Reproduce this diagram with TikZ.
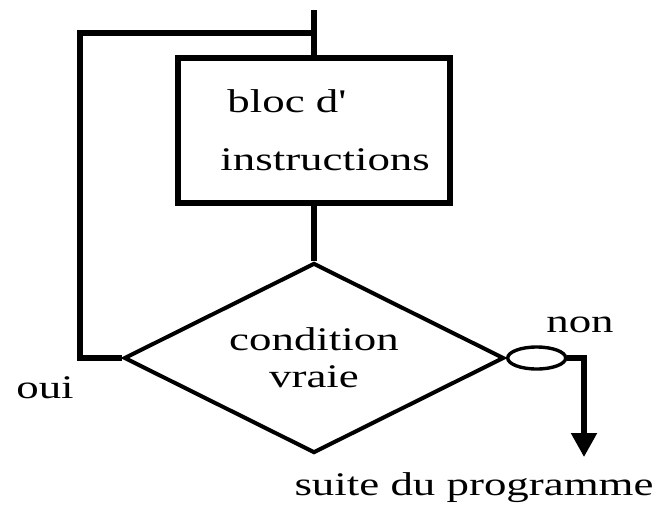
\documentclass[tikz,border=0pt]{standalone}
\usepackage{fontspec}
\setmainfont[FakeStretch=1.36]{Liberation Serif}
\usetikzlibrary{shapes.geometric,arrows.meta}
\begin{document}
\begin{tikzpicture}[x=0.5pt,y=-0.5pt,
    bloc/.style={draw,line width=2.8pt,minimum width=136pt,minimum height=72.5pt,inner sep=0pt},
    test/.style={draw,diamond,shape aspect=2,line width=2pt,minimum width=190pt,minimum height=95pt,inner sep=0pt,align=center,font=\fontsize{16.5}{18.5}\selectfont},
    sortie/.style={draw,ellipse,line width=1.7pt,minimum width=29pt,minimum height=11pt,inner sep=0pt},
    lien/.style={line width=2.6pt},
    txt/.style={inner sep=0pt,font=\fontsize{16.5}{20}\selectfont}]
      \useasboundingbox (0,0) rectangle (659,515);

      \node[bloc] (box) at (314,130.5) {};
      \node[txt,align=left,anchor=north west,font=\fontsize{16.5}{29}\selectfont] (boxtext) at (220,89.5) {\hspace{3.5pt}bloc d\textquotesingle\\instructions};

      \node[test] (cond) at (314,358) {condition\\vraie};
      \node[sortie,anchor=west] (ell) at (cond.east) {};

      \coordinate (entree) at (314,10);
      \coordinate (coin) at (80,33);
      \coordinate (fin) at (584,457);

      \draw[lien] (entree) -- (box.north);
      \draw[lien] (box.south) -- (cond.north);
      \draw[lien] (cond.west) -| (coin) -- (entree |- coin);
      \draw[lien,-{Triangle[length=12pt,width=12.5pt]}] (ell.east) -| (fin);

      \node[txt,anchor=base] (non) at (580,332) {non};
      \node[txt,anchor=base] (oui) at (45,398) {oui};
      \node[txt,anchor=base] (suite) at (474,495) {suite du programme};
    \end{tikzpicture}
\end{document}
